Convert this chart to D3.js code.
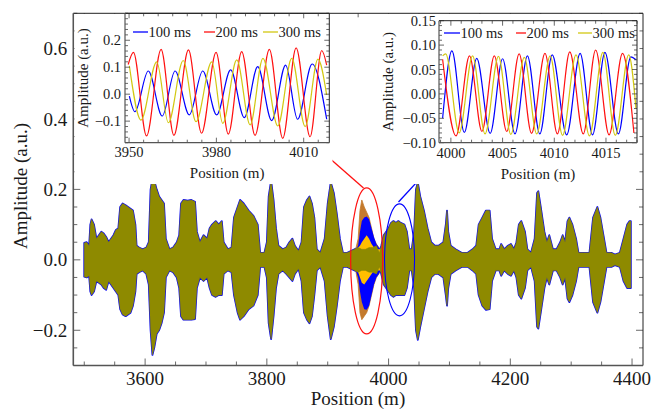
<!DOCTYPE html>
<html><head><meta charset="utf-8">
<script src="https://cdn.jsdelivr.net/npm/d3@7"></script>
</head><body style="margin:0;background:#fff">
<svg id="c" width="651" height="409" style="display:block"></svg>
<script>
// ---------------- DATA ----------------
const mainPosition = [3500,3504,3508,3510,3512,3516,3520,3524,3528,3532,3536,3540,3544,3548,3552,3556,3559,3563,3568,3572,3576,3580,3584,3586,3590,3596,3602,3606,3609,3612,3615,3619,3623,3627,3631,3634,3640,3646,3652,3656,3659,3663,3670,3676,3682,3685,3690,3696,3702,3706,3710,3716,3721,3726,3729,3736,3742,3746,3752,3756,3762,3770,3778,3785,3789,3796,3800,3803,3807,3811,3815,3819,3826,3832,3837,3842,3846,3852,3857,3861,3866,3870,3874,3878,3882,3888,3895,3900,3905,3910,3915,3920,3925,3932,3938,3944,3950,3956,3962,3968,3974,3980,3985,3988,3992,3996,4000,4004,4008,4012,4016,4020,4026,4030,4034,4038,4042,4045,4048,4052,4058,4064,4070,4076,4082,4090,4094,4096,4098,4102,4110,4120,4130,4138,4144,4148,4154,4160,4166,4170,4176,4182,4185,4190,4196,4201,4206,4210,4214,4218,4224,4228,4234,4240,4244,4246,4250,4256,4260,4264,4270,4276,4282,4286,4290,4294,4297,4302,4308,4312,4320,4330,4336,4343,4348,4354,4358,4366,4372,4380,4386,4392,4396,4398];
const mainUpper = [0.048,0.05,0.04,0.10,0.115,0.10,0.06,0.07,0.08,0.075,0.065,0.05,0.06,0.07,0.085,0.09,0.15,0.16,0.155,0.15,0.145,0.14,0.10,0.04,0.035,0.03,0.035,0.05,0.2,0.23,0.225,0.2,0.18,0.17,0.16,0.06,0.03,0.035,0.05,0.07,0.16,0.17,0.168,0.17,0.165,0.08,0.05,0.07,0.06,0.09,0.10,0.11,0.10,0.11,0.05,0.03,0.035,0.12,0.15,0.17,0.16,0.14,0.125,0.10,0.02,0.02,0.05,0.18,0.225,0.17,0.09,0.04,0.03,0.035,0.05,0.06,0.04,0.025,0.05,0.15,0.17,0.18,0.16,0.12,0.03,0.02,0.06,0.16,0.22,0.19,0.13,0.06,0.02,0.02,0.025,0.03,0.035,0.03,0.03,0.035,0.035,0.04,0.02,0.04,0.07,0.08,0.09,0.105,0.11,0.105,0.11,0.105,0.10,0.08,0.03,0.03,0.08,0.2,0.22,0.18,0.14,0.09,0.05,0.04,0.04,0.05,0.10,0.14,0.08,0.04,0.03,0.02,0.02,0.03,0.04,0.10,0.12,0.14,0.14,0.06,0.03,0.03,0.045,0.03,0.04,0.045,0.03,0.05,0.10,0.11,0.08,0.03,0.02,0.06,0.19,0.195,0.15,0.08,0.05,0.07,0.03,0.03,0.05,0.07,0.05,0.11,0.12,0.10,0.06,0.02,0.02,0.02,0.12,0.15,0.12,0.06,0.02,0.02,0.015,0.02,0.06,0.10,0.11,0.11];
const mainLower = [-0.048,-0.05,-0.045,-0.09,-0.10,-0.09,-0.06,-0.065,-0.07,-0.08,-0.085,-0.06,-0.07,-0.08,-0.09,-0.10,-0.14,-0.155,-0.16,-0.155,-0.15,-0.13,-0.09,-0.04,-0.035,-0.03,-0.04,-0.07,-0.2,-0.27,-0.25,-0.21,-0.2,-0.18,-0.15,-0.05,-0.03,-0.035,-0.05,-0.08,-0.16,-0.17,-0.17,-0.17,-0.168,-0.08,-0.05,-0.06,-0.05,-0.08,-0.10,-0.105,-0.10,-0.10,-0.04,-0.03,-0.035,-0.10,-0.15,-0.17,-0.16,-0.14,-0.13,-0.10,-0.02,-0.02,-0.05,-0.18,-0.225,-0.16,-0.08,-0.04,-0.03,-0.04,-0.05,-0.06,-0.04,-0.025,-0.06,-0.15,-0.17,-0.18,-0.16,-0.10,-0.03,-0.02,-0.06,-0.16,-0.225,-0.19,-0.13,-0.06,-0.02,-0.02,-0.025,-0.03,-0.035,-0.03,-0.03,-0.035,-0.035,-0.04,-0.02,-0.04,-0.07,-0.08,-0.09,-0.10,-0.105,-0.10,-0.10,-0.10,-0.10,-0.08,-0.03,-0.03,-0.08,-0.2,-0.227,-0.19,-0.14,-0.09,-0.05,-0.04,-0.04,-0.05,-0.10,-0.13,-0.08,-0.04,-0.03,-0.02,-0.02,-0.03,-0.04,-0.10,-0.13,-0.142,-0.14,-0.06,-0.03,-0.03,-0.045,-0.03,-0.04,-0.045,-0.03,-0.05,-0.10,-0.11,-0.08,-0.03,-0.02,-0.06,-0.19,-0.195,-0.15,-0.08,-0.05,-0.07,-0.03,-0.03,-0.05,-0.07,-0.05,-0.11,-0.12,-0.10,-0.06,-0.02,-0.02,-0.02,-0.12,-0.15,-0.12,-0.06,-0.02,-0.02,-0.015,-0.02,-0.06,-0.08,-0.08,-0.08];

const regionPosition = [3946,3950,3953,3956,3960,3964,3968,3972,3976,3980,3984,3987];
const upper200 = [0.03,0.06,0.14,0.17,0.15,0.135,0.12,0.09,0.06,0.045,0.035,0.03];
const lower200 = [-0.03,-0.07,-0.15,-0.17,-0.16,-0.15,-0.13,-0.10,-0.07,-0.05,-0.04,-0.03];
const upper100 = [0.03,0.04,0.08,0.11,0.12,0.123,0.115,0.09,0.065,0.045,0.035,0.03];
const lower100 = [-0.03,-0.05,-0.09,-0.12,-0.14,-0.142,-0.13,-0.10,-0.07,-0.05,-0.04,-0.03];
const upper300 = [0.03,0.035,0.04,0.05,0.06,0.07,0.06,0.045,0.035,0.03,0.03,0.03];
const lower300 = [-0.03,-0.035,-0.05,-0.065,-0.07,-0.06,-0.05,-0.04,-0.03,-0.03,-0.03,-0.03];

const in1Pos100 = [3950.1,3952.0,3956.6,3961.4,3965.8,3970.7,3975.3,3980.1,3984.9,3989.6,3994.2,3999.0,4003.8,4007.9,4012.9,4017.9];
const in1Val100 = [-0.007,-0.065,0.086,-0.081,0.086,-0.077,0.086,-0.077,0.09,-0.087,0.102,-0.098,0.108,-0.093,0.112,-0.093];
const in1Pos200 = [3949.7,3951.5,3956.0,3961.0,3965.4,3970.4,3974.9,3979.9,3984.1,3988.7,3993.3,3998.2,4002.8,4007.4,4012.2,4016.2,4017.9];
const in1Val200 = [0.11,0.155,-0.155,0.166,-0.153,0.164,-0.145,0.155,-0.148,0.158,-0.153,0.166,-0.164,0.172,-0.158,0.162,0.108];
const in1Pos300 = [3950.1,3954.1,3959.5,3963.5,3968.6,3973.0,3978.4,3982.2,3987.0,3991.6,3996.0,4001.1,4005.9,4010.5,4014.9,4017.9];
const in1Val300 = [0.105,-0.096,0.12,-0.106,0.125,-0.102,0.12,-0.108,0.127,-0.114,0.133,-0.118,0.133,-0.12,0.13,-0.003];

const in2Pos100 = [3999.2,4000.1,4001.3,4002.5,4003.8,4005.0,4006.2,4007.4,4008.6,4009.8,4011.2,4012.5,4013.7,4014.9,4016.2,4017.4,4017.9];
const in2Val100 = [-0.05,0.088,-0.079,0.073,-0.081,0.072,-0.082,0.078,-0.082,0.08,-0.084,0.083,-0.084,0.085,-0.082,0.076,0.07];
const in2Pos200 = [3999.2,4000.5,4001.8,4003.0,4004.2,4005.4,4006.6,4007.8,4009.1,4010.3,4011.5,4012.8,4014.0,4015.3,4016.6,4017.7];
const in2Val200 = [0.071,-0.086,0.078,-0.077,0.078,-0.077,0.082,-0.081,0.083,-0.082,0.086,-0.082,0.09,-0.084,0.083,-0.08];
const in2Pos300 = [3999.2,3999.5,4000.8,4002.1,4003.3,4004.6,4005.8,4007.1,4008.3,4009.6,4010.8,4012.1,4013.4,4014.7,4015.9,4017.2,4017.9];
const in2Val300 = [0.078,0.082,-0.08,0.078,-0.082,0.077,-0.083,0.075,-0.082,0.078,-0.085,0.08,-0.086,0.085,-0.085,0.08,-0.03];

const seriesNames = ["100 ms","200 ms","300 ms"];
const mainXTicks = [3600,3800,4000,4200,4400];
const mainYTicks = [-0.2,0.0,0.2,0.4,0.6];
const in1XTicks = [3950,3980,4010];
const in1YTicks = [-0.1,0.0,0.1,0.2];
const in2XTicks = [4000,4005,4010,4015];
const in2YTicks = [-0.10,-0.05,0.00,0.05,0.10,0.15];

// ---------------- DRAW ----------------
const FONT = '"Liberation Serif"';
const svg = d3.select("#c");
const C = {blue:"#0000ff", red:"#ff1010", yel:"#d2c812", olive:"#8e8a00", brown:"#c47a2c", gold:"#ffbe00"};
const fmt = (d, n) => (d < 0 ? "\u2212" : "") + Math.abs(d).toFixed(n);
function range(a, b, s){ const r=[]; for(let v=a; v<=b+1e-9; v+=s) r.push(+v.toFixed(6)); return r; }
function txt(g, size){ return g.append("text").style("font-family",FONT).attr("font-size",size).attr("fill","#1a1a1a"); }

function drawFrame(g, x, y, o){
  const [x0,x1] = x.range(), [y1,y0] = y.range();
  const minorX = o.minorX.filter(v => v>=x.domain()[0] && v<=x.domain()[1]);
  const minorY = o.minorY.filter(v => v>=y.domain()[0] && v<=y.domain()[1]);
  const tk = g.append("g").attr("stroke","#444").attr("stroke-width",0.8);
  minorX.forEach(v => {
    const L = o.xMajor.some(m=>Math.abs(m-v)<1e-6) ? o.maj : o.min;
    tk.append("line").attr("x1",x(v)).attr("x2",x(v)).attr("y1",y1).attr("y2",y1-L);
    tk.append("line").attr("x1",x(v)).attr("x2",x(v)).attr("y1",y0).attr("y2",y0+L);
  });
  minorY.forEach(v => {
    const L = o.yMajor.some(m=>Math.abs(m-v)<1e-6) ? o.maj : o.min;
    tk.append("line").attr("y1",y(v)).attr("y2",y(v)).attr("x1",x0).attr("x2",x0+L);
    tk.append("line").attr("y1",y(v)).attr("y2",y(v)).attr("x1",x1).attr("x2",x1-L);
  });
  g.append("line").attr("x1",x0).attr("x2",x1).attr("y1",y0).attr("y2",y0).attr("stroke","#222").attr("stroke-width",1);
  g.append("line").attr("x1",x1).attr("x2",x1).attr("y1",y0).attr("y2",y1).attr("stroke","#222").attr("stroke-width",1);
  g.append("line").attr("x1",x0).attr("x2",x1).attr("y1",y1).attr("y2",y1).attr("stroke","#555").attr("stroke-width",o.axW);
  g.append("line").attr("x1",x0).attr("x2",x0).attr("y1",y0).attr("y2",y1).attr("stroke","#555").attr("stroke-width",o.axW);
  o.xMajor.forEach(v => txt(g,o.fs).attr("x",x(v)).attr("y",y1+o.xLab).attr("text-anchor","middle").text(o.xf(v)));
  o.yMajor.forEach(v => txt(g,o.fs).attr("x",x0-o.yLab).attr("y",y(v)).attr("dy","0.35em").attr("text-anchor","end").text(o.yf(v)));
}

// ---- main plot ----
const mx = d3.scaleLinear().domain([3482,4418]).range([73.3,643]);
const my = d3.scaleLinear().domain([-0.3,0.7]).range([365.5,13.3]);
const gMain = svg.append("g");
svg.append("clipPath").attr("id","mclip").append("rect")
  .attr("x",73.3).attr("y",13.3).attr("width",643-73.3).attr("height",365.5-13.3);
const gData = gMain.append("g").attr("clip-path","url(#mclip)");

const mainRows = mainPosition.map((p,i)=>({p, u:mainUpper[i], l:mainLower[i]}));
const area = d3.area().x(d=>mx(d.p)).y0(d=>my(d.l)).y1(d=>my(d.u));
gData.append("path").datum(mainRows).attr("d",area).attr("fill",C.blue).attr("stroke",C.blue).attr("stroke-width",1.8).attr("stroke-linejoin","round");
const reg = (U,L) => regionPosition.map((p,i)=>({p,u:U[i],l:L[i]}));
gData.append("path").datum(reg(upper200,lower200)).attr("d",area).attr("fill",C.brown).attr("stroke",C.brown).attr("stroke-width",0.8);
gData.append("path").datum(reg(upper100,lower100)).attr("d",area).attr("fill",C.blue);
gData.append("path").datum(reg(upper300,lower300)).attr("d",area).attr("fill",C.gold);
gData.append("path").datum(mainRows).attr("d",area).attr("fill",C.olive).attr("stroke",C.olive).attr("stroke-width",0.5);

drawFrame(gMain, mx, my, {
  minorX: range(3500,4400,50), minorY: range(-0.3,0.7,0.05),
  xMajor: mainXTicks, yMajor: mainYTicks, maj:7, min:4, axW:1.6,
  xLab: 19, yLab: 6, fs: 19, xf: d=>d, yf: d=>fmt(d,1)
});
txt(gMain,19).attr("x",358).attr("y",405).attr("text-anchor","middle").text("Position (m)");
txt(gMain,19).attr("transform","translate(27,186) rotate(-90)").attr("text-anchor","middle").text("Amplitude (a.u.)");

function arrow(color, x1,y1,x2,y2){
  const a = Math.atan2(y2-y1,x2-x1), L=11, W=4.5;
  const bx = x2 - L*Math.cos(a), by = y2 - L*Math.sin(a);
  gMain.append("line").attr("x1",x1).attr("y1",y1).attr("x2",bx).attr("y2",by).attr("stroke",color).attr("stroke-width",1.3);
  gMain.append("path").attr("d",`M${x2},${y2}L${bx-W*Math.sin(a)},${by+W*Math.cos(a)}L${bx+W*Math.sin(a)},${by-W*Math.cos(a)}Z`).attr("fill",color);
}
gMain.append("ellipse").attr("cx",mx(3964)).attr("cy",my(-0.003)).attr("rx",16).attr("ry",73).attr("fill","none").attr("stroke",C.red).attr("stroke-width",1.2);
gMain.append("ellipse").attr("cx",mx(4018)).attr("cy",my(0.0)).attr("rx",15).attr("ry",56).attr("fill","none").attr("stroke",C.blue).attr("stroke-width",1.1);
arrow(C.red, 363.5,188, 319,149);
arrow(C.blue, 398.5,202, 433.5,164);

// ---- insets ----
function inset(o){
  const g = svg.append("g");
  g.append("rect").attr("x",o.bg[0]).attr("y",o.bg[1]).attr("width",o.bg[2]).attr("height",o.bg[3]).attr("fill","#fff");
  const x = d3.scaleLinear().domain(o.xd).range(o.xr);
  const y = d3.scaleLinear().domain(o.yd).range(o.yr);
  const id = "cl"+o.id;
  svg.append("clipPath").attr("id",id).append("rect").attr("x",o.xr[0]).attr("y",o.yr[1]).attr("width",o.xr[1]-o.xr[0]).attr("height",o.yr[0]-o.yr[1]);
  const line = d3.line().x(d=>x(d[0])).y(d=>y(d[1])).curve(d3.curveMonotoneX);
  const gd = g.append("g").attr("clip-path",`url(#${id})`);
  o.series.forEach(s => {
    gd.append("path").datum(s.pos.map((p,i)=>[p,s.val[i]])).attr("d",line).attr("fill","none").attr("stroke",s.color).attr("stroke-width",1.2);
  });
  o.legend.forEach((L,i) => {
    g.append("line").attr("x1",L[0]).attr("x2",L[1]).attr("y1",o.legY).attr("y2",o.legY).attr("stroke",o.series[i].color).attr("stroke-width",1.3);
    txt(g,14.5).attr("x",L[1]+0.5).attr("y",o.legY).attr("dy","0.35em").text(seriesNames[i]);
  });
  drawFrame(g, x, y, o.frame);
  txt(g,15).attr("x",(o.xr[0]+o.xr[1])/2).attr("y",o.xTitleY).attr("text-anchor","middle").text("Position (m)");
  txt(g,15).attr("transform",`translate(${o.yTitleX},${(o.yr[0]+o.yr[1])/2}) rotate(-90)`).attr("text-anchor","middle").text("Amplitude (a.u.)");
}

inset({
  id:1, bg:[74.5,14,258,170],
  xd:[3948.6,4018.8], xr:[125,329.3], yd:[-0.18,0.3], yr:[142.7,13.3],
  series:[{pos:in1Pos100,val:in1Val100,color:C.blue},{pos:in1Pos200,val:in1Val200,color:C.red},{pos:in1Pos300,val:in1Val300,color:C.yel}],
  legend:[[133,148],[204,215],[263,278]], legY:32,
  frame:{minorX: range(3945,4020,5), minorY: range(-0.18,0.3,0.02), xMajor: in1XTicks, yMajor: in1YTicks, maj:5, min:3, axW:1.2,
    xLab:14, yLab:4, fs:14.5, xf:d=>d, yf:d=>fmt(d,1)},
  xTitleY:178, yTitleX:88
});
inset({
  id:2, bg:[378,14,261.5,170],
  xd:[3998.85,4018.0], xr:[439,637], yd:[-0.10,0.15], yr:[142.7,20.7],
  series:[{pos:in2Pos100,val:in2Val100,color:C.blue},{pos:in2Pos200,val:in2Val200,color:C.red},{pos:in2Pos300,val:in2Val300,color:C.yel}],
  legend:[[444,460],[516,526],[578,592]], legY:33,
  frame:{minorX: range(3999,4018,1), minorY: range(-0.10,0.15,0.01), xMajor: in2XTicks, yMajor: in2YTicks, maj:5, min:3, axW:1.2,
    xLab:15, yLab:3, fs:14.5, xf:d=>d, yf:d=>fmt(d,2)},
  xTitleY:179, yTitleX:393
});
</script>
</body></html>
